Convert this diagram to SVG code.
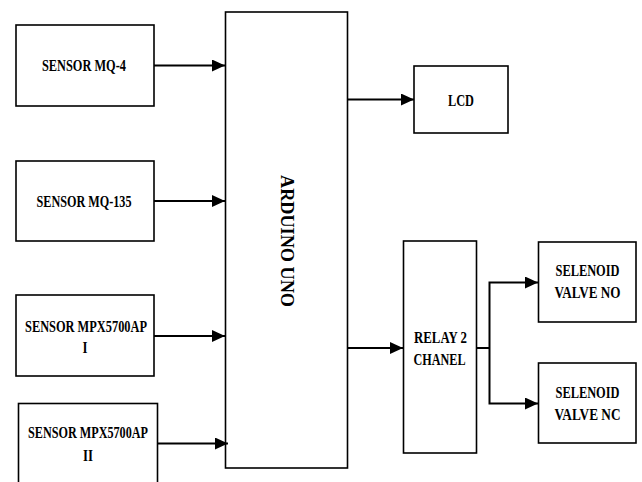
<svg xmlns="http://www.w3.org/2000/svg" width="642" height="482" viewBox="0 0 642 482">
<style>
.box{fill:#fff;stroke:#000;stroke-width:1.6}
.t{font-family:"Liberation Serif","Times New Roman",serif;font-weight:bold;font-size:17.5px;text-anchor:middle;fill:#000}
.c{fill:none;stroke:#000;stroke-width:2}
</style>
<defs>
<marker id="ah" markerUnits="userSpaceOnUse" markerWidth="14" markerHeight="12" refX="13" refY="6" orient="auto">
<path d="M0,0 L13,6 L0,12 Z" fill="#000"/>
</marker>
</defs>
<rect width="642" height="482" fill="#fff"/>
<g id="sensor-mq4">
<rect class="box" x="16" y="25" width="138" height="81"/>
<text class="t" x="84" y="71" textLength="84" lengthAdjust="spacingAndGlyphs">SENSOR MQ-4</text>
</g>
<g id="sensor-mq135">
<rect class="box" x="16" y="161" width="138" height="80"/>
<text class="t" x="84" y="206.5" textLength="95" lengthAdjust="spacingAndGlyphs">SENSOR MQ-135</text>
</g>
<g id="sensor-mpx-1">
<rect class="box" x="16" y="295" width="138" height="81"/>
<text class="t" x="86" y="332" textLength="122" lengthAdjust="spacingAndGlyphs">SENSOR MPX5700AP</text>
<text class="t" x="85" y="353" textLength="5" lengthAdjust="spacingAndGlyphs">I</text>
</g>
<g id="sensor-mpx-2">
<rect class="box" x="18.5" y="403.5" width="139" height="90"/>
<text class="t" x="88" y="438" textLength="120" lengthAdjust="spacingAndGlyphs">SENSOR MPX5700AP</text>
<text class="t" x="88" y="460.5" textLength="10" lengthAdjust="spacingAndGlyphs">II</text>
</g>
<g id="arduino">
<rect class="box" x="225.5" y="12" width="122" height="456"/>
<text class="t" style="font-size:18px" transform="translate(281,241) rotate(90)" x="0" y="0" textLength="132" lengthAdjust="spacingAndGlyphs">ARDUINO UNO</text>
</g>
<g id="lcd">
<rect class="box" x="414" y="66" width="94" height="67"/>
<text class="t" x="461" y="105.5" textLength="26" lengthAdjust="spacingAndGlyphs">LCD</text>
</g>
<g id="relay">
<rect class="box" x="403.5" y="241" width="73" height="212"/>
<text class="t" x="440.5" y="342.5" textLength="53" lengthAdjust="spacingAndGlyphs">RELAY 2</text>
<text class="t" x="439.5" y="365" textLength="52" lengthAdjust="spacingAndGlyphs">CHANEL</text>
</g>
<g id="valve-no">
<rect class="box" x="538.5" y="242" width="97.5" height="80"/>
<text class="t" x="587.5" y="275.5" textLength="64" lengthAdjust="spacingAndGlyphs">SELENOID</text>
<text class="t" x="587.5" y="297.5" textLength="66" lengthAdjust="spacingAndGlyphs">VALVE NO</text>
</g>
<g id="valve-nc">
<rect class="box" x="538.5" y="363" width="97.5" height="80"/>
<text class="t" x="587.5" y="398" textLength="64" lengthAdjust="spacingAndGlyphs">SELENOID</text>
<text class="t" x="587.5" y="420" textLength="66" lengthAdjust="spacingAndGlyphs">VALVE NC</text>
</g>
<g id="connectors">
<line class="c" x1="154" y1="65.5" x2="225" y2="65.5" marker-end="url(#ah)"/>
<line class="c" x1="154" y1="201" x2="225" y2="201" marker-end="url(#ah)"/>
<line class="c" x1="154" y1="336" x2="225" y2="336" marker-end="url(#ah)"/>
<line class="c" x1="157.5" y1="443.5" x2="228" y2="443.5" marker-end="url(#ah)"/>
<line class="c" x1="347.5" y1="99.5" x2="414" y2="99.5" marker-end="url(#ah)"/>
<line class="c" x1="347.5" y1="348" x2="403" y2="348" marker-end="url(#ah)"/>
<line class="c" x1="476.5" y1="348" x2="489.5" y2="348"/>
<polyline class="c" points="489.5,348 489.5,282.5 538,282.5" marker-end="url(#ah)"/>
<polyline class="c" points="489.5,348 489.5,403.5 538,403.5" marker-end="url(#ah)"/>
</g>
</svg>
